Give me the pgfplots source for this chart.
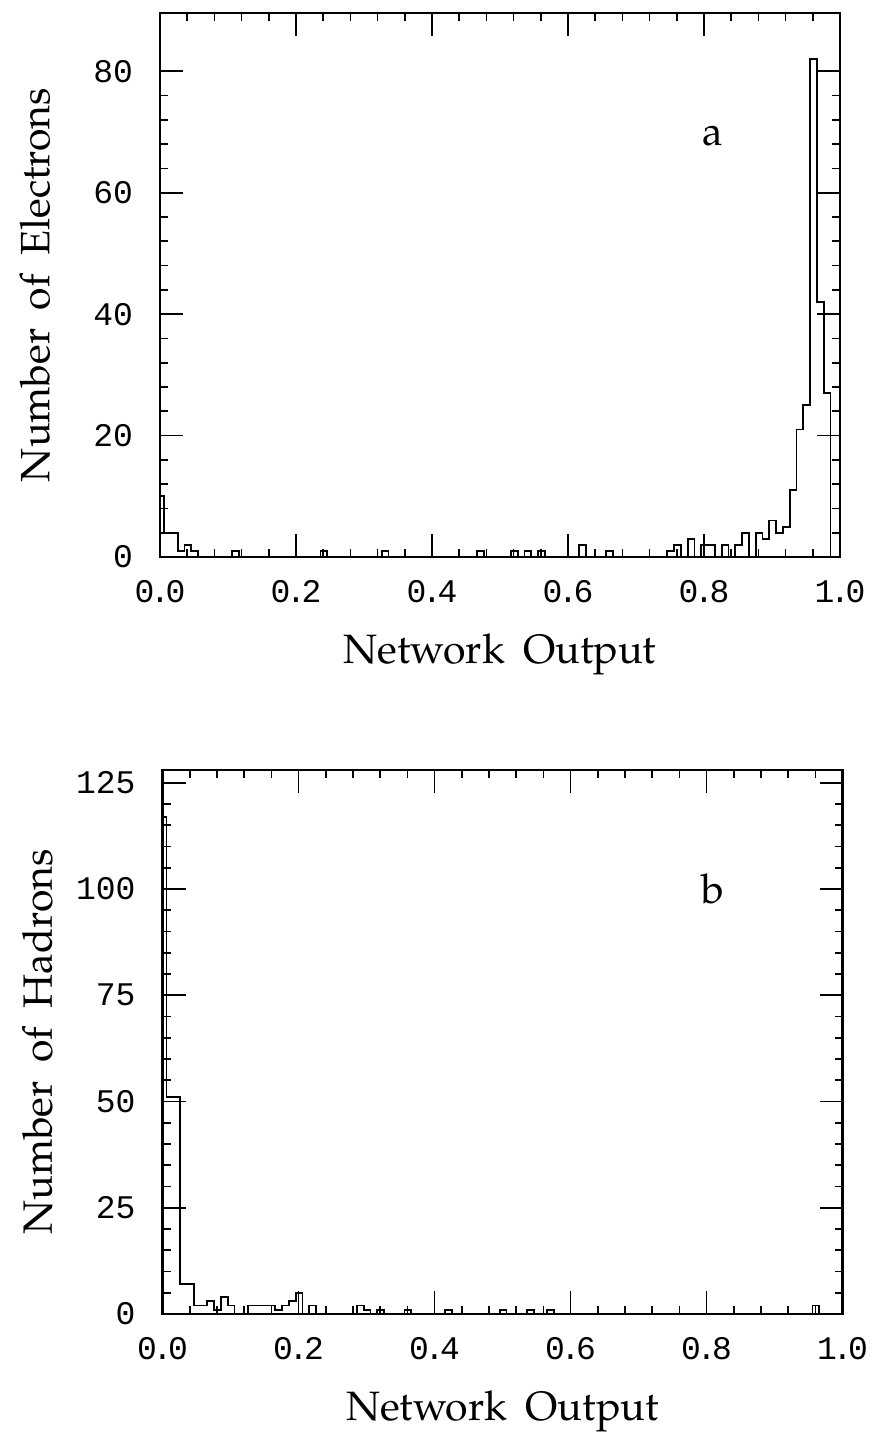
\documentclass[border=0pt]{standalone}
\usepackage{fontspec}
\usepackage[T1,TU]{fontenc}
\usepackage{pgfplots}
\pgfplotsset{compat=1.18}

\newfontfamily\ticfam{Liberation Mono}
\newcommand{\labfont}{\fontencoding{T1}\fontfamily{pplx}\fontsize{20.5bp}{24bp}\selectfont}
\newcommand{\ticfont}{\ticfam\fontsize{16.5bp}{19bp}\selectfont}
\newcommand{\dt}{\kern-.13em.\kern-.13em}

\pgfplotsset{
  hist/.style={
    width=340bp, height=272bp, scale only axis,
    xmin=0, xmax=1,
    xtick={0,0.2,0.4,0.6,0.8,1}, minor x tick num=4,
    xticklabels={0\dt0,0\dt2,0\dt4,0\dt6,0\dt8,1\dt0},
    minor y tick num=4,
    tick align=inside,
    major tick length=11.5bp, minor tick length=4bp,
    axis line style={line width=1.1bp},
    every tick/.style={black, line width=0.8bp},
    /pgf/number format/assume math mode=true,
    xticklabel style={font=\ticfont, yshift=-8bp},
    yticklabel style={font=\ticfont, xshift=-10bp},
    every axis x label/.style={at={(axis description cs:0.5,-0.18)}, anchor=center, font=\labfont},
    every axis y label/.style={at={(axis description cs:-0.184,0.5)}, rotate=90, anchor=center, font=\labfont},
    xlabel={Network\hspace{0.45em}Output},
  },
  histline/.style={const plot mark left, black, line width=0.9bp, mark=none},
}

\begin{document}
\begin{tikzpicture}
  \path[use as bounding box] (0,0) rectangle (437.5bp,718bp);

  % (a) electrons
  \begin{axis}[hist, at={(80bp,439.5bp)}, anchor=south west,
               ymin=0, ymax=89.6, ytick={0,20,40,60,80},
               ylabel={Number\hspace{0.45em}of\hspace{0.45em}Electrons}]
    \addplot[histline] coordinates {
      (0,10) (0.006,4) (0.026,1) (0.036,2) (0.046,1) (0.056,0)
      (0.106,1) (0.116,0)
      (0.236,1) (0.246,0)
      (0.326,1) (0.336,0)
      (0.466,1) (0.476,0)
      (0.516,1) (0.526,0)
      (0.536,1) (0.546,0)
      (0.556,1) (0.566,0)
      (0.616,2) (0.626,0)
      (0.656,1) (0.666,0)
      (0.746,1) (0.756,2) (0.766,0)
      (0.776,3) (0.786,0)
      (0.796,2) (0.816,0)
      (0.826,2) (0.836,0)
      (0.846,2) (0.856,4) (0.866,0)
      (0.876,4) (0.886,3) (0.896,6) (0.906,4) (0.916,5) (0.926,11)
      (0.936,21) (0.946,25) (0.956,82) (0.966,42) (0.976,27) (0.986,0)
      (1,0)
    };
    \node[font=\labfont] at (axis cs:0.813,69.4) {a};
  \end{axis}

  % (b) hadrons
  \begin{axis}[hist, at={(81.25bp,61bp)}, anchor=south west,
               ymin=0, ymax=128, ytick={0,25,50,75,100,125},
               ylabel={Number\hspace{0.45em}of\hspace{0.45em}Hadrons}]
    \addplot[histline] coordinates {
      (0,117) (0.006,51) (0.026,7) (0.046,2) (0.066,3) (0.076,1)
      (0.086,4) (0.096,2) (0.106,0)
      (0.126,2) (0.166,1) (0.176,2) (0.186,3) (0.196,5) (0.206,0)
      (0.216,2) (0.226,0)
      (0.286,2) (0.296,1) (0.306,0)
      (0.316,1) (0.326,0)
      (0.356,1) (0.366,0)
      (0.416,1) (0.426,0)
      (0.496,1) (0.506,0)
      (0.536,1) (0.546,0)
      (0.566,1) (0.576,0)
      (0.956,2) (0.966,0)
      (1,0)
    };
    \node[font=\labfont] at (axis cs:0.81,100) {b};
  \end{axis}
\end{tikzpicture}
\end{document}
